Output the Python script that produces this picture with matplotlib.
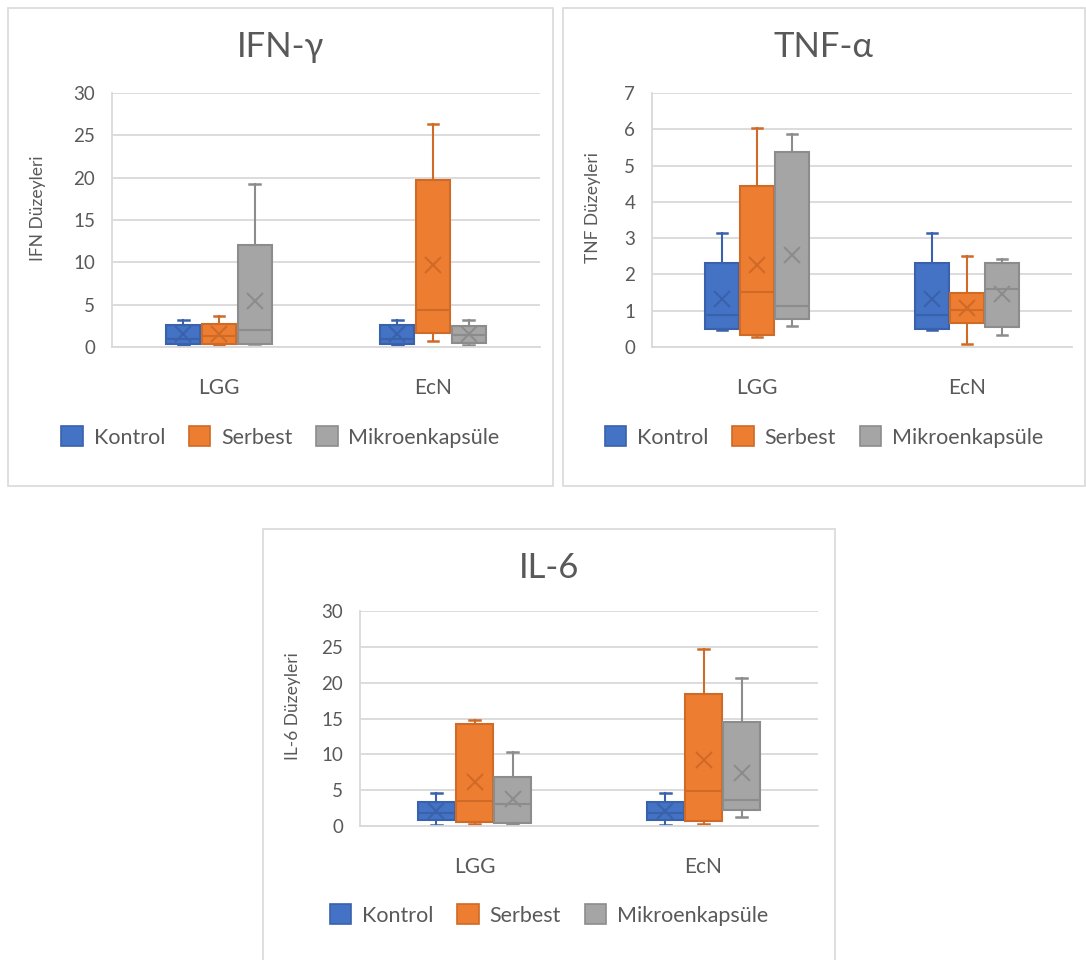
import matplotlib
matplotlib.use('Agg')
import matplotlib.pyplot as plt
from matplotlib.patches import Rectangle, Patch
import numpy as np

plt.rcParams['font.family'] = ['Lato', 'DejaVu Sans']

groups = ['LGG', 'EcN']
series = ['Kontrol', 'Serbest', 'Mikroenkapsüle']
fills = ['#4472C4', '#ED7D31', '#A5A5A5']
edges = ['#3A62AC', '#D06A27', '#8C8C8C']

# rows = series (Kontrol, Serbest, Mikroenkapsüle), cols = groups (LGG, EcN)
ifn_lo = [[0.2, 0.2], [0.2, 0.7], [0.3, 0.2]]
ifn_q1 = [[0.4, 0.4], [0.3, 1.7], [0.4, 0.5]]
ifn_med = [[1.0, 1.0], [1.3, 4.4], [2.05, 1.45]]
ifn_q3 = [[2.56, 2.56], [2.7, 19.7], [12.1, 2.5]]
ifn_hi = [[3.2, 3.2], [3.7, 26.3], [19.2, 3.15]]
ifn_mean = [[1.5, 1.5], [1.5, 9.7], [5.4, 1.5]]

tnf_lo = [[0.46, 0.46], [0.28, 0.09], [0.58, 0.32]]
tnf_q1 = [[0.5, 0.5], [0.32, 0.67], [0.78, 0.55]]
tnf_med = [[0.87, 0.87], [1.52, 1.01], [1.12, 1.61]]
tnf_q3 = [[2.32, 2.32], [4.45, 1.49], [5.37, 2.32]]
tnf_hi = [[3.13, 3.13], [6.04, 2.51], [5.86, 2.42]]
tnf_mean = [[1.33, 1.33], [2.25, 1.07], [2.53, 1.47]]

il6_lo = [[0.19, 0.19], [0.28, 0.28], [0.28, 1.21]]
il6_q1 = [[0.84, 0.84], [0.5, 0.65], [0.37, 2.24]]
il6_med = [[1.86, 1.86], [3.5, 4.9], [3.1, 3.63]]
il6_q3 = [[3.4, 3.4], [14.3, 18.4], [6.8, 14.5]]
il6_hi = [[4.6, 4.6], [14.8, 24.7], [10.3, 20.6]]
il6_mean = [[2.1, 2.1], [6.1, 9.27], [3.7, 7.4]]

W, H = 1086, 960
fig = plt.figure(figsize=(W / 100, H / 100), dpi=100)

txt = '#595959'
grid = '#D9D9D9'


def px_rect(x0, y0, x1, y1):
    return [x0 / W, 1 - y1 / H, (x1 - x0) / W, (y1 - y0) / H]


def panel(frame, axbox, title, title_y, ylabel, ylab_x, ymax, ystep,
          lo, q1, med, q3, hi, mean, leg_y):
    fx0, fy0, fx1, fy1 = frame
    fig.patches.append(Rectangle((fx0 / W, 1 - fy1 / H), (fx1 - fx0) / W, (fy1 - fy0) / H,
                                 transform=fig.transFigure, fill=False, edgecolor=grid, lw=1.2))
    ax = fig.add_axes(px_rect(*axbox))
    x = np.arange(len(groups))
    for i in range(len(series)):
        stats = []
        for j in range(len(groups)):
            stats.append(dict(whislo=lo[i][j], q1=q1[i][j], med=med[i][j], q3=q3[i][j],
                              whishi=hi[i][j], mean=mean[i][j], fliers=[]))
        ec = edges[i]
        ax.bxp(stats, positions=x + (i - 1) * 0.167, widths=0.16, patch_artist=True,
               showmeans=True, capwidths=0.05, manage_ticks=False,
               boxprops=dict(facecolor=fills[i], edgecolor=ec, lw=1.5),
               medianprops=dict(color=ec, lw=1.5),
               whiskerprops=dict(color=ec, lw=1.5),
               capprops=dict(color=ec, lw=1.8),
               meanprops=dict(marker='x', markeredgecolor=ec, markersize=11, mew=1.5))
    ax.set_xlim(-0.5, 1.5)
    ax.set_ylim(0, ymax)
    ax.set_yticks(np.arange(0, ymax + 0.01, ystep))
    ax.set_xticks(x)
    ax.set_xticklabels(groups, fontsize=15)
    ax.yaxis.grid(True, color=grid, lw=1.3)
    ax.set_axisbelow(True)
    for s in ['top', 'right']:
        ax.spines[s].set_visible(False)
    for s in ['left', 'bottom']:
        ax.spines[s].set_color(grid)
        ax.spines[s].set_linewidth(1.3)
    ax.tick_params(axis='both', length=0, colors=txt)
    ax.tick_params(axis='y', pad=12, labelsize=13.5)
    ax.tick_params(axis='x', pad=22)
    cx = (fx0 + fx1) / 2
    fig.text(cx / W, 1 - title_y / H, title, ha='center', va='center', fontsize=25, color=txt)
    cy = (axbox[1] + axbox[3]) / 2
    fig.text(ylab_x / W, 1 - (cy - 12) / H, ylabel, rotation=90, ha='center', va='center',
             fontsize=12.5, color=txt)
    handles = [Patch(facecolor=fills[i], edgecolor=edges[i], lw=1.2, label=series[i])
               for i in range(len(series))]
    fig.legend(handles=handles, loc='center', bbox_to_anchor=(cx / W, 1 - leg_y / H),
               ncol=3, frameon=False, fontsize=15.5, labelcolor=txt, handlelength=1.0,
               handleheight=1.0, handletextpad=0.5, columnspacing=1.1)
    return ax


panel((8, 8, 553, 486), (112, 93, 540, 347), 'IFN-γ', 47, 'IFN Düzeyleri', 38, 30, 5,
      ifn_lo, ifn_q1, ifn_med, ifn_q3, ifn_hi, ifn_mean, 437)
panel((563, 8, 1085, 486), (652, 93, 1072, 347), 'TNF-α', 47, 'TNF Düzeyleri', 593, 7, 1,
      tnf_lo, tnf_q1, tnf_med, tnf_q3, tnf_hi, tnf_mean, 437)
panel((263, 529, 835, 962), (360, 611, 818, 826), 'IL-6', 568, 'IL-6 Düzeyleri', 293, 30, 5,
      il6_lo, il6_q1, il6_med, il6_q3, il6_hi, il6_mean, 915)

fig.savefig('out.png', dpi=100)
